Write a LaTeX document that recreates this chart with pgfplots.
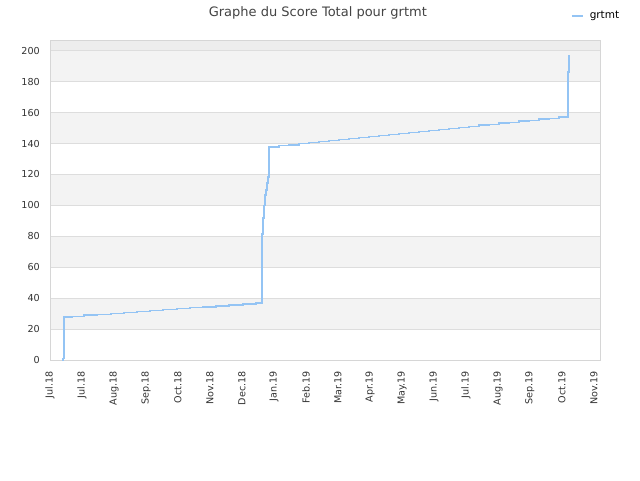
\documentclass[border=0pt]{standalone}
\usepackage{pgfplots}
\pgfplotsset{compat=1.18}
\usepackage{fontspec}
\setmainfont{DejaVu Sans}
\definecolor{lineblue}{RGB}{148,196,244}
\definecolor{bandgrey}{RGB}{243,243,243}
\definecolor{topgrey}{RGB}{237,237,237}
\definecolor{gridgrey}{RGB}{221,221,221}
\definecolor{framegrey}{RGB}{214,214,214}
\definecolor{ticktext}{RGB}{51,51,51}
\definecolor{titletext}{RGB}{68,68,68}
\begin{document}
\begin{tikzpicture}
\useasboundingbox[fill=white] (0,0) rectangle (640pt,480pt);
\begin{axis}[
    at={(50pt,120pt)}, anchor=south west,
    scale only axis, width=550pt, height=320pt,
    xmin=0, xmax=17.19,
    ymin=0, ymax=207,
    axis line style={framegrey},
    xtick={0,...,17},
    xticklabels={Jul.18,Jul.18,Aug.18,Sep.18,Oct.18,Nov.18,Dec.18,Jan.19,Feb.19,Mar.19,Apr.19,May.19,Jun.19,Jul.19,Aug.19,Sep.19,Oct.19,Nov.19},
    ytick={0,20,...,200},
    major tick length=0pt,
    tick label style={font=\fontsize{9.6}{10}\selectfont, text=ticktext, inner sep=0pt},
    xticklabel style={rotate=90, anchor=east},
    xticklabel shift=11pt, yticklabel shift=10pt,
    /pgf/number format/assume math mode=true,
    title={Graphe du Score Total pour grtmt},
    title style={at={(axis description cs:0.487,1.066)}, anchor=center, font=\fontsize{13}{15}\selectfont, text=titletext},
    legend style={draw=none, fill=none, at={(axis description cs:0.947,1.075)}, anchor=west, inner sep=0pt,
        font=\fontsize{10.5}{12}\selectfont, /tikz/every odd column/.append style={column sep=4pt}},
    legend image code/.code={\draw[#1] (0pt,0pt) -- (11pt,0pt);},
]
% background bands, grid and frame
\fill[bandgrey] (axis cs:0,20) rectangle (axis cs:17.19,40);
\fill[bandgrey] (axis cs:0,60) rectangle (axis cs:17.19,80);
\fill[bandgrey] (axis cs:0,100) rectangle (axis cs:17.19,120);
\fill[bandgrey] (axis cs:0,140) rectangle (axis cs:17.19,160);
\fill[bandgrey] (axis cs:0,180) rectangle (axis cs:17.19,200);
\fill[topgrey] (axis cs:0,200) rectangle (axis cs:17.19,207);
\pgfplotsinvokeforeach{20,40,...,200}{
  \draw[gridgrey, line width=0.8pt] (axis cs:0,#1) -- (axis cs:17.19,#1);
}
\draw[framegrey] (rel axis cs:0,0) rectangle (rel axis cs:1,1);

\addplot[const plot, lineblue, line width=1.7pt] coordinates {
    (0.38,0) (0.40,1) (0.43,3) (0.43,27.6)
    (0.68,28.2) (1.07,28.9) (1.48,29.5) (1.91,30.1) (2.31,30.7)
    (2.72,31.4) (3.13,32.0) (3.54,32.6) (3.96,33.3) (4.38,33.9)
    (4.79,34.5) (5.19,35.1) (5.60,35.8) (6.04,36.4) (6.44,37.0)
    (6.62,37.0) (6.62,81.4) (6.65,92) (6.68,100) (6.72,106.6)
    (6.75,110) (6.78,114.6) (6.81,118.5) (6.84,118.5) (6.84,138.0)
    (7.15,138.7) (7.47,139.3) (7.78,140.0) (8.09,140.6) (8.40,141.3)
    (8.72,141.9) (9.03,142.6) (9.34,143.2) (9.65,143.9) (9.97,144.6)
    (10.28,145.2) (10.59,145.9) (10.90,146.5) (11.22,147.2) (11.53,147.8)
    (11.84,148.5) (12.15,149.1) (12.47,149.8) (12.78,150.4) (13.09,151.1)
    (13.40,151.8) (13.72,152.4) (14.03,153.1) (14.34,153.7) (14.65,154.4)
    (14.97,155.0) (15.28,155.7) (15.59,156.3) (15.90,157.0) (16.19,157.0)
    (16.19,186.5) (16.22,186.5) (16.22,197)
};
\addlegendentry{grtmt}
\end{axis}
\end{tikzpicture}
\end{document}
